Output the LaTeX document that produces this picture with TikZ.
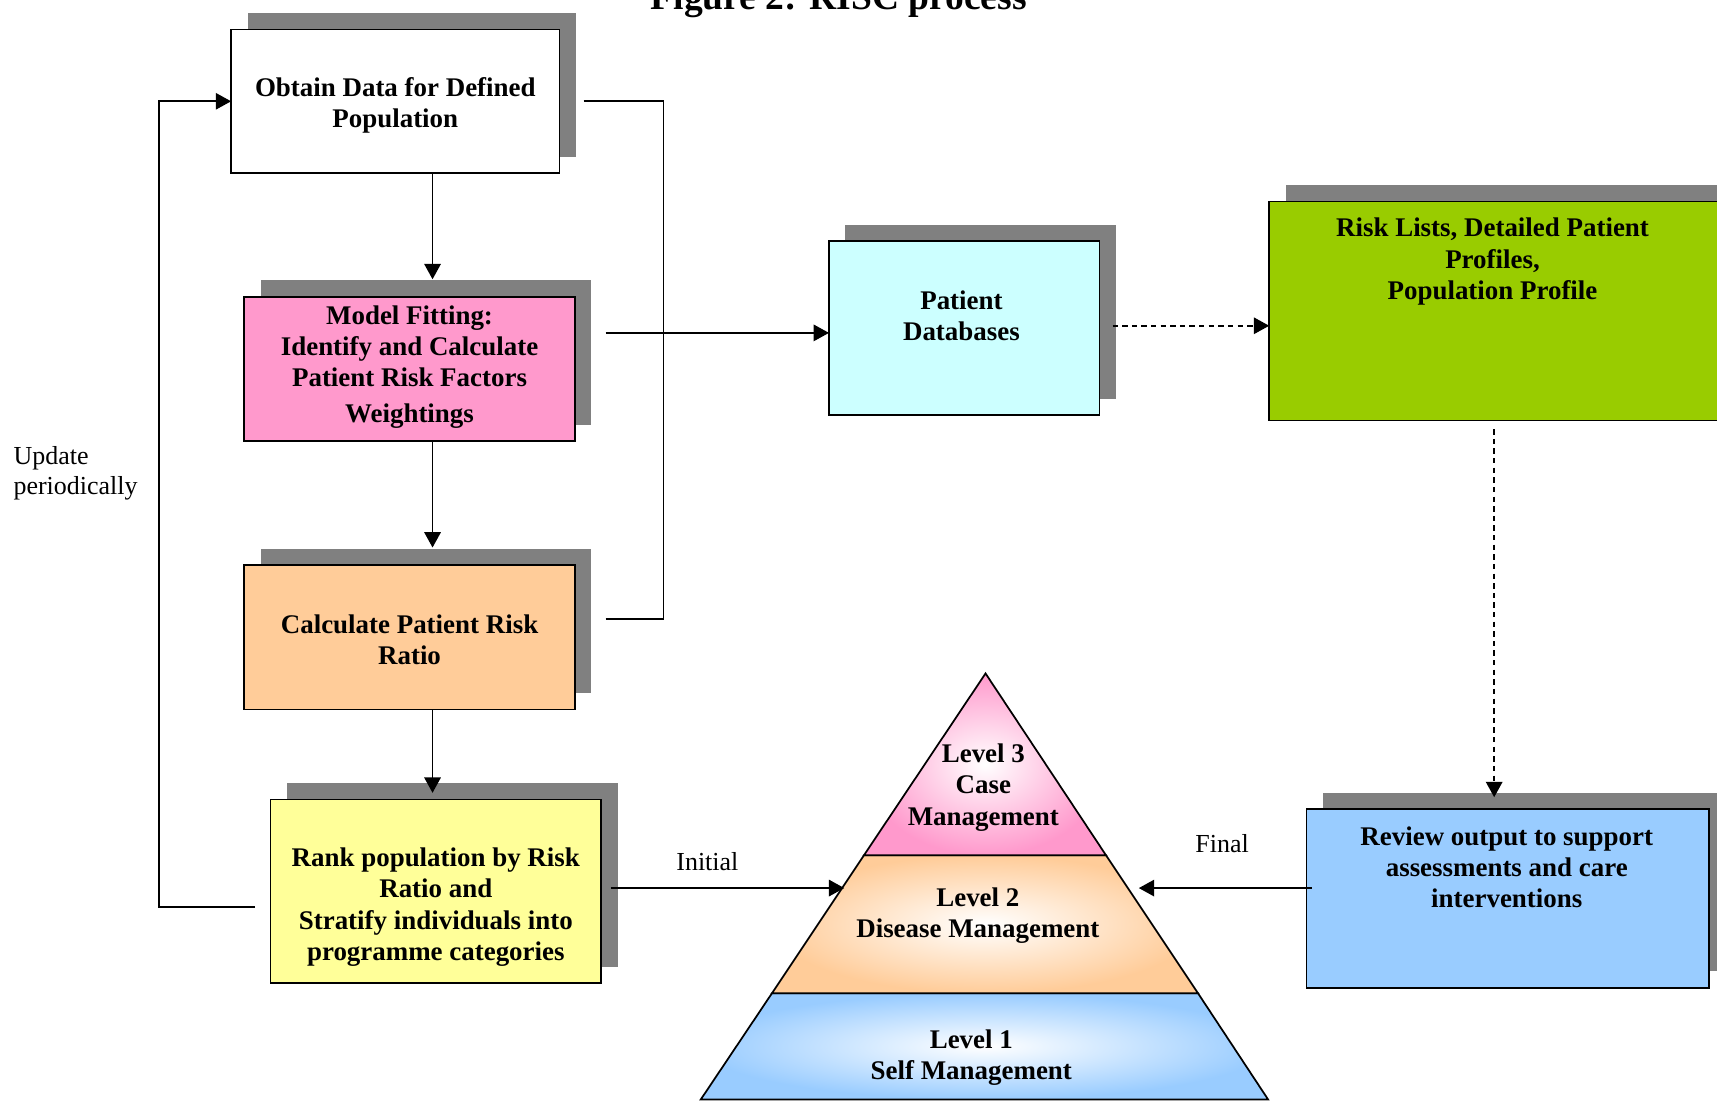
\documentclass[tikz,border=0pt]{standalone}
\usepackage{fontspec}
\setmainfont{Liberation Serif}
\usepackage{xcolor}
\usetikzlibrary{calc, arrows.meta, shadows, positioning}

\definecolor{boxpink}{HTML}{FF99CC}
\definecolor{boxorange}{HTML}{FFCC99}
\definecolor{boxyellow}{HTML}{FFFF99}
\definecolor{boxcyan}{HTML}{CCFFFF}
\definecolor{boxgreen}{HTML}{99CC00}
\definecolor{boxblue}{HTML}{99CCFF}
\definecolor{shadowgray}{HTML}{808080}

\begin{document}
\begin{tikzpicture}[x=0.02cm, y=-0.02cm, >={Triangle[length=2.8mm, width=3mm]},
  box/.style={draw, line width=0.9pt, inner sep=0pt, outer sep=0pt,
    drop shadow={shadow xshift=0.3cm, shadow yshift=0.3cm, fill=shadowgray, opacity=1}},
  boxtext/.style={align=center, font=\bfseries\fontsize{14}{16.3}\selectfont},
  note/.style={align=left, font=\fontsize{13.5}{15.5}\selectfont},
  link/.style={line width=0.9pt},
  dashlink/.style={line width=0.9pt, dash pattern=on 2.8pt off 2.2pt}]

  \useasboundingbox (0,0) rectangle (1568,1007);

  % Title (cut at the top edge)
  \node[font=\bfseries\fontsize{19.5}{22}\selectfont, anchor=base, inner sep=0pt] (title) at (766,9) {Figure 2: RISC process};

  % Key coordinates
  \coordinate (spine) at (395,0);       % vertical arrows of the chain
  \coordinate (bus) at (606,304);       % joint of the lines to the databases
  \coordinate (apex) at (900,615);      % top of the pyramid
  \coordinate (L3l) at (789,781);
  \coordinate (L3r) at (1010,781);
  \coordinate (L2l) at (705,907);
  \coordinate (L2r) at (1094,907);
  \coordinate (L1l) at (640,1004);
  \coordinate (L1r) at (1158,1004);
  \coordinate (lvl2west) at (771,811);  % Initial arrow tip
  \coordinate (lvl2east) at (1040,811); % Final arrow tip

  % Process boxes
  \node[box, fill=white, minimum width=6cm, minimum height=2.62cm] (obtain) at (361,92.5) {};
  \node[box, fill=boxpink, minimum width=6.04cm, minimum height=2.64cm] (model) at (374,337) {};
  \node[box, fill=boxorange, minimum width=6.04cm, minimum height=2.64cm] (ratio) at (374,582) {};
  \node[box, fill=boxyellow, minimum width=6.04cm, minimum height=3.36cm] (rank) at (398,814) {};
  \node[box, fill=boxcyan, minimum width=4.94cm, minimum height=3.18cm] (db) at (880.5,299.5) {};
  \node[box, fill=boxgreen, minimum width=8.22cm, minimum height=4cm] (risk) at (1364.5,284) {};
  \node[box, fill=boxblue, minimum width=7.36cm, minimum height=3.26cm] (review) at (1377,820.5) {};

  % Box texts
  \node[boxtext] (obtain-t) at (361,96) {Obtain Data for Defined\\Population};
  \node[boxtext] (model-t) at (374,335) {Model Fitting:\\Identify and Calculate\\Patient Risk Factors\\[2pt]Weightings};
  \node[boxtext] (ratio-t) at (374,584) {Calculate Patient Risk\\Ratio};
  \node[boxtext] (rank-t) at (398,828.5) {Rank population by Risk\\Ratio and\\Stratify individuals into\\programme categories};
  \node[boxtext] (db-t) at (878,288.5) {Patient\\Databases};
  \node[boxtext] (risk-t) at (1363,239) {Risk Lists, Detailed Patient\\Profiles,\\Population Profile};
  \node[boxtext] (review-t) at (1376,792) {Review output to support\\assessments and care\\interventions};

  % Pyramid of levels
  \shadedraw[inner color=white, outer color=boxblue, line width=0.9pt] (L2l) -- (L2r) -- (L1r) -- (L1l) -- cycle;
  \shadedraw[inner color=white, outer color=boxorange, line width=0.9pt] (L3l) -- (L3r) -- (L2r) -- (L2l) -- cycle;
  \shadedraw[inner color=white, outer color=boxpink, line width=0.9pt] (apex) -- (L3r) -- (L3l) -- cycle;
  \node[boxtext] (lvl3) at (898,719) {Level 3\\Case\\Management};
  \node[boxtext] (lvl2) at (893,836) {Level 2\\Disease Management};
  \node[boxtext] (lvl1) at (887,966) {Level 1\\Self Management};

  % Chain arrows
  \draw[link, ->] (obtain.south -| spine) -- ($(model.north -| spine)+(0,-16)$);
  \draw[link, ->] (model.south -| spine) -- ($(ratio.north -| spine)+(0,-16)$);
  \draw[link, ->] (ratio.south -| spine) -- ($(rank.north -| spine)+(0,-6)$);

  % Update loop
  \draw[link, ->] ($(rank.west)+(-14,14)$) -- ++(-88,0) |- (obtain.west);
  \node[note, anchor=west, inner sep=0pt] (update) at (12,432) {Update\\periodically};

  % Lines into the databases
  \draw[link] ($(obtain.east)+(22,0)$) -| (bus);
  \draw[link] ($(ratio.east)+(28,-17)$) -| (bus);
  \draw[link, ->] ($(model.east |- bus)+(28,0)$) -- (bus -| db.west);

  % Outputs
  \draw[dashlink, ->] ($(db.east)+(12,-2)$) -- ($(db.east -| risk.west)+(0,-2)$);
  \draw[dashlink, ->] ($(risk.south)+(0,8)$) -- ($(review.north -| risk.south)+(0,-11)$);

  % Initial and Final arrows to the pyramid
  \draw[link, ->] ($(rank.east)+(9,-3)$) -- (lvl2west);
  \node[note] (initial) at (646,787) {Initial};
  \draw[link, ->] ($(review.west)+(5,-9.5)$) -- (lvl2east);
  \node[note] (final) at (1116,770) {Final};
\end{tikzpicture}
\end{document}
